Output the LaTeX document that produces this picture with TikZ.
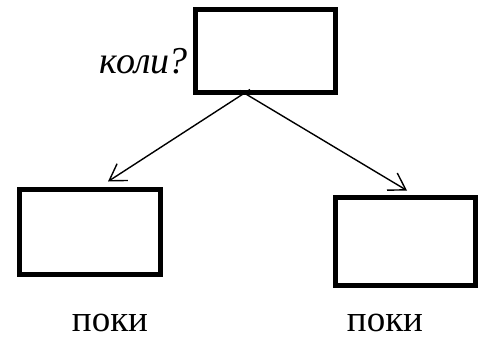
\documentclass[tikz,border=0pt]{standalone}
\usepackage{fontspec}
\setmainfont{Liberation Serif}
\usetikzlibrary{arrows.meta}
\tikzset{
	box/.style={draw=black, line width=5pt, fill=white, inner sep=0pt},
	link/.style={line width=1.4pt, -{Straight Barb[length=16pt, width=20pt, line width=1.4pt]}},
	word/.style={font=\fontsize{37}{40}\selectfont, inner sep=0pt}
}
\begin{document}
\begin{tikzpicture}[x=1pt, y=-1pt]
			%%%%% START %%%%%
			
			\useasboundingbox (0, 0) rectangle (488, 338);
			
			\node[box, minimum width=140pt, minimum height=83pt] (koli) at (265, 50.5) {};
			\node[box, minimum width=141pt, minimum height=85pt] (lbox) at (90, 232) {};
			\node[box, minimum width=140pt, minimum height=88pt] (rbox) at (405.5, 241.5) {};
			
			\node[word, font=\fontsize{38}{40}\selectfont, anchor=base east] (koliq) at (188, 73) {\itshape коли\kern-1pt?};
			
			\draw[link] ([shift={(-15, -5)}]koli.south) -- ([shift={(18, -5.5)}]lbox.north);
			\draw[link] ([shift={(-25, -4)}]koli.south) -- ([shift={(1.5, -4.5)}]rbox.north);
			
			\node[word, anchor=base] (lpoki) at (110, 331) {поки};
			\node[word, anchor=base] (rpoki) at (385, 331) {поки};
			
			%%%%% END %%%%%
\end{tikzpicture}
\end{document}
